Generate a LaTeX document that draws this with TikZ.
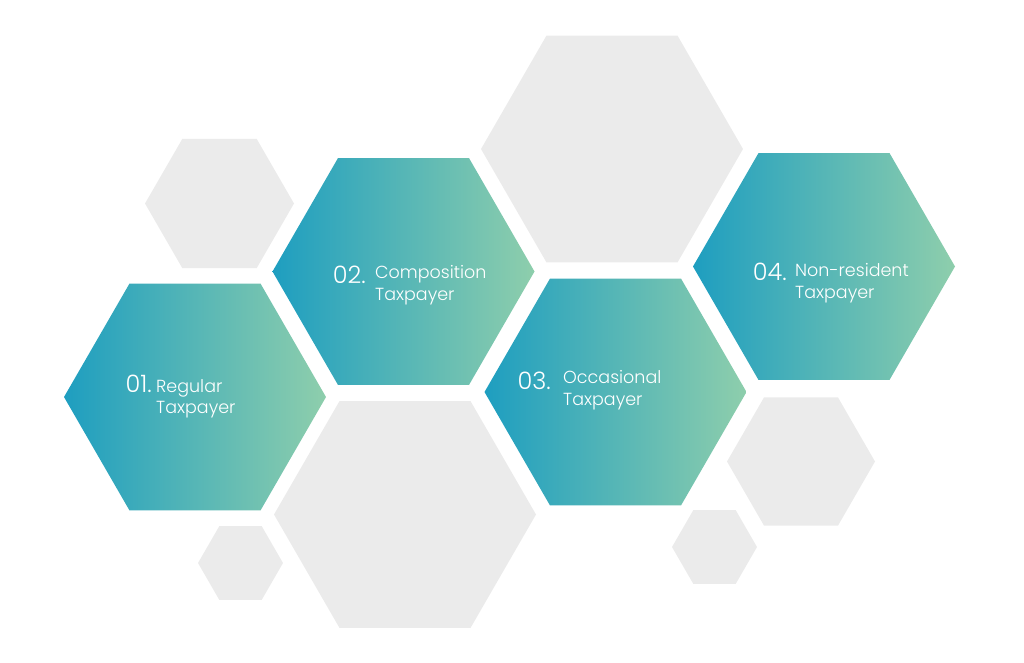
\documentclass[tikz,border=0pt]{standalone}
\usepackage{fontspec}
\setmainfont{Poppins Light}
\usetikzlibrary{shapes.geometric}
\definecolor{hexteal}{RGB}{30,158,192}
\definecolor{hexmint}{RGB}{142,206,172}
\definecolor{hexgrey}{RGB}{235,235,235}

\begin{document}
\begin{tikzpicture}[x=1pt,y=-1pt,
    hex/.style={regular polygon,regular polygon sides=6,inner sep=0pt,outer sep=0pt},
    grey hex/.style={hex,fill=hexgrey},
    main hex/.style={hex,left color=hexteal,right color=hexmint,minimum size=262pt},
    hexnum/.style={anchor=base east,text=white,inner sep=0pt,font=\fontsize{24}{24}\selectfont},
    hexname/.style={anchor=base west,text=white,inner sep=0pt,text height=12.5pt,text depth=3.5pt,
      font=\fontsize{17.5}{22}\selectfont}]

  \useasboundingbox (0,0) rectangle (1024,662);

  % grey background cells
  \node[grey hex,minimum size=149pt] (g1) at (219.5,203.5) {};
  \node[grey hex,minimum size=262pt] (g2) at (612,149) {};
  \node[grey hex,minimum size=262pt] (g3) at (405,514.5) {};
  \node[grey hex,minimum size=85pt]  (g4) at (240.5,563) {};
  \node[grey hex,minimum size=148pt] (g5) at (801,461.5) {};
  \node[grey hex,minimum size=85pt]  (g6) at (714.5,547) {};

  % coloured cells
  \node[main hex] (h1) at (195,397) {};
  \node[main hex] (h2) at (403.5,271.5) {};
  \node[main hex] (h3) at (615.5,392) {};
  \node[main hex] (h4) at (824,266.5) {};

  % labels
  \node[hexnum]  (n1) at (152,392) {01.};
  \node[hexname] (a1) at (156,392) {Regular};
  \node[hexname] (b1) at (156,413) {Taxpayer};

  \node[hexnum]  (n2) at (366,283) {02.};
  \node[hexname] (a2) at (375,278) {Composition};
  \node[hexname] (b2) at (375,300) {Taxpayer};

  \node[hexnum]  (n3) at (551,389) {03.};
  \node[hexname] (a3) at (563,383) {Occasional};
  \node[hexname] (b3) at (563,405) {Taxpayer};

  \node[hexnum]  (n4) at (787,280) {04.};
  \node[hexname] (a4) at (795,276) {Non-resident};
  \node[hexname] (b4) at (795,298) {Taxpayer};

\end{tikzpicture}
\end{document}
